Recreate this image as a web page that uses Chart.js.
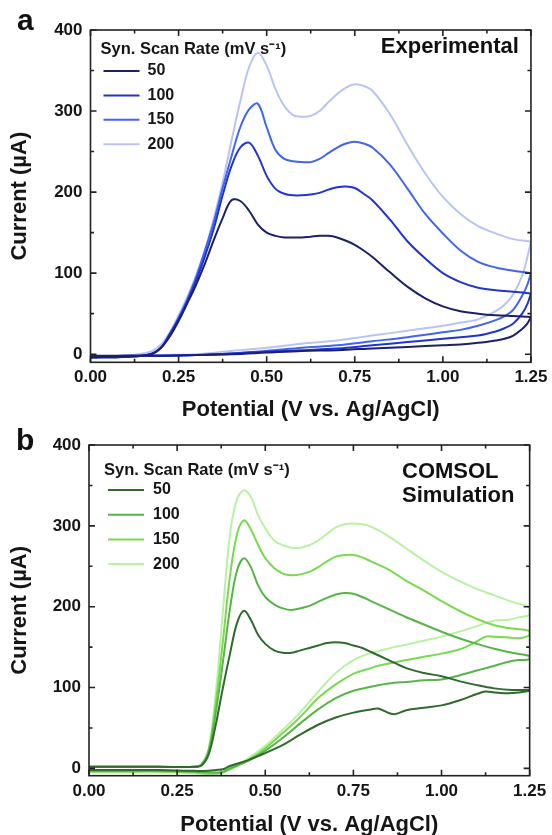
<!DOCTYPE html>
<html>
<head>
<meta charset="utf-8">
<script src="https://cdn.jsdelivr.net/npm/chart.js@4.4.1/dist/chart.umd.min.js"></script>
<style>
  html, body { margin: 0; padding: 0; background: #fff; }
  #wrap { position: relative; width: 552px; height: 835px; overflow: hidden; }
  canvas { position: absolute; left: 0; }
  #chartA { top: 0; }
  #chartB { top: 415px; }
</style>
</head>
<body>
<div id="wrap">
  <canvas id="chartA" width="552" height="430"></canvas>
  <canvas id="chartB" width="552" height="440"></canvas>
</div>
<script>
const scanRates = ['50', '100', '150', '200'];
const legendTitle = 'Syn. Scan Rate (mV s\u207B\u00B9)';
const xTickValues = [0, 0.25, 0.5, 0.75, 1.0, 1.25];
const yTickValues = [0, 100, 200, 300, 400];
const notesA = ['Experimental'];
const notesB = ['COMSOL', 'Simulation'];

// panel a - experimental (potential in V, current in uA)
const potentialFwdA = [0, 0.1, 0.17, 0.2, 0.225, 0.25, 0.275, 0.3, 0.325, 0.35, 0.375, 0.4, 0.425, 0.45, 0.475, 0.5, 0.525, 0.55, 0.575, 0.6, 0.625, 0.65, 0.675, 0.7, 0.725, 0.75, 0.775, 0.8, 0.85, 0.9, 0.95, 1.0, 1.05, 1.1, 1.15, 1.2, 1.25];
const potentialRevA = [1.25, 1.24, 1.225, 1.2, 1.175, 1.15, 1.1, 1.05, 1.0, 0.9, 0.8, 0.7, 0.6, 0.5, 0.4, 0.3, 0.2, 0.1, 0];
const currentA50Fwd = [-4, -3, 0, 8, 22, 41, 63, 86, 112, 141, 168, 190, 189, 177, 160, 150, 146, 144, 144, 144, 145, 146, 146, 144, 140, 135, 128, 120, 101, 83, 69, 59, 53, 50, 48, 47, 46];
const currentA100Fwd = [-4, -3, 0, 8, 25, 43, 65, 91, 121, 155, 196, 232, 255, 261, 245, 220, 204, 198, 196, 196, 197, 199, 203, 206, 207, 205, 198, 190, 166, 139, 118, 100, 89, 82, 79, 77, 75];
const currentA150Fwd = [-4, -3, 0, 8, 25, 45, 68, 95, 128, 163, 205, 244, 280, 302, 309, 280, 252, 241, 238, 237, 237, 241, 248, 255, 260, 262, 260, 255, 234, 204, 173, 149, 128, 114, 107, 103, 100];
const currentA200Fwd = [-3, -2, 3, 12, 27, 48, 71, 98, 129, 168, 212, 263, 312, 354, 372, 356, 327, 306, 295, 293, 294, 300, 311, 321, 329, 333, 331, 325, 296, 258, 223, 194, 173, 158, 149, 142, 139];
const currentA50Rev = [46, 38, 31, 23, 19, 17, 14, 12, 11, 9, 7, 5, 4, 2, 0, -1, -2, -2, -2];
const currentA100Rev = [75, 62, 50, 38, 32, 28, 23, 21, 19, 15, 11, 7, 5, 3, 1, -1, -2, -2, -3];
const currentA150Rev = [100, 86, 72, 55, 47, 42, 35, 30, 27, 21, 16, 11, 8, 4, 1, -1, -2, -2, -3];
const currentA200Rev = [139, 120, 97, 74, 61, 53, 43, 39, 35, 29, 23, 17, 13, 8, 4, 0, -1, -2, -3];

// panel b - COMSOL simulation
const potentialFwdB = [0, 0.1, 0.2, 0.3, 0.32, 0.34, 0.36, 0.38, 0.4, 0.42, 0.44, 0.46, 0.48, 0.5, 0.525, 0.55, 0.575, 0.6, 0.625, 0.65, 0.675, 0.7, 0.725, 0.75, 0.775, 0.8, 0.85, 0.9, 0.95, 1.0, 1.05, 1.1, 1.15, 1.2, 1.25];
const potentialRevB = [1.25, 1.22, 1.19, 1.15, 1.125, 1.1, 1.05, 1.0, 0.95, 0.9, 0.865, 0.82, 0.8, 0.75, 0.7, 0.65, 0.6, 0.55, 0.5, 0.45, 0.4, 0.38, 0.36, 0.34, 0.3, 0.2, 0.1, 0];
const currentB50Fwd = [2, 2, 2, 2, 4, 18, 55, 100, 142, 180, 195, 183, 165, 154, 146, 143, 143, 146, 149, 152, 155, 156, 155, 152, 149, 144, 134, 124, 118, 114, 108, 103, 99, 97, 97];
const currentB100Fwd = [2, 2, 2, 2, 5, 22, 70, 132, 198, 245, 260, 248, 226, 212, 203, 198, 196, 198, 201, 206, 211, 215, 217, 216, 212, 207, 197, 187, 178, 169, 161, 154, 148, 143, 139];
const currentB150Fwd = [2, 2, 2, 2, 5, 24, 82, 158, 238, 290, 307, 295, 276, 260, 248, 241, 239, 240, 243, 249, 256, 262, 264, 264, 261, 256, 246, 232, 220, 207, 195, 185, 177, 173, 170];
const currentB200Fwd = [2, 2, 2, 2, 6, 26, 95, 195, 290, 333, 344, 335, 313, 297, 282, 276, 273, 273, 276, 282, 290, 298, 302, 303, 302, 299, 287, 272, 257, 243, 232, 222, 214, 206, 199];
const currentB50Rev = [96, 94, 93, 94, 95, 92, 84, 78, 75, 72, 67, 74, 73, 69, 63, 54, 42, 29, 19, 10, 3, -1, -2, -3, -3, -2, -2, -2];
const currentB100Rev = [135, 134, 132, 127, 124, 121, 115, 110, 109, 107, 106, 103, 101, 96, 87, 73, 56, 38, 22, 9, 0, -4, -5, -5, -4, -3, -3, -3];
const currentB150Rev = [165, 161, 162, 163, 163, 157, 147, 142, 138, 134, 131, 127, 124, 117, 104, 87, 64, 44, 25, 10, -1, -5, -6, -6, -5, -4, -4, -4];
const currentB200Rev = [190, 187, 184, 183, 180, 176, 169, 163, 158, 153, 150, 145, 143, 134, 118, 95, 70, 48, 28, 12, 0, -5, -7, -7, -6, -4, -4, -4];

const colorsA = ['#1b2168', '#2034d2', '#4065f0', '#b9c3f8'];
const colorsB = ['#2f6a2c', '#57b547', '#79da4e', '#b8f2a3'];

const FONT = '"Liberation Sans", Arial, Helvetica, sans-serif';
Chart.defaults.font.family = FONT;
Chart.defaults.color = '#151515';

function loop(fwdV, fwdI, revV, revI) {
    const pts = fwdV.map((v, i) => ({ x: v, y: fwdI[i] }));
    return pts.concat(revV.map((v, i) => ({ x: v, y: revI[i] })));
}

// frame box with inward major / minor ticks on all four sides
const frameTicks = {
    id: 'frameTicks',
    afterDatasetsDraw(chart) {
        const { ctx, chartArea: a, scales: { x, y } } = chart;
        const major = 6, minor = 3.5;
        ctx.save();
        ctx.strokeStyle = '#222';
        ctx.lineWidth = 1.6;
        ctx.strokeRect(a.left, a.top, a.right - a.left, a.bottom - a.top);
        const mark = (px, isX, len) => {
            ctx.beginPath();
            if (isX) {
                ctx.moveTo(px, a.bottom); ctx.lineTo(px, a.bottom - len);
                ctx.moveTo(px, a.top); ctx.lineTo(px, a.top + len);
            } else {
                ctx.moveTo(a.left, px); ctx.lineTo(a.left + len, px);
                ctx.moveTo(a.right, px); ctx.lineTo(a.right - len, px);
            }
            ctx.stroke();
        };
        xTickValues.forEach((v, i) => {
            mark(x.getPixelForValue(v), true, major);
            if (i > 0) mark(x.getPixelForValue((v + xTickValues[i - 1]) / 2), true, minor);
        });
        yTickValues.forEach((v, i) => {
            mark(y.getPixelForValue(v), false, major);
            if (i > 0) mark(y.getPixelForValue((v + yTickValues[i - 1]) / 2), false, minor);
        });
        ctx.restore();
    }
};

const scanLegend = {
    id: 'scanLegend',
    afterDatasetsDraw(chart, args, opts) {
        const { ctx, chartArea: a } = chart;
        ctx.save();
        ctx.fillStyle = '#151515';
        ctx.textBaseline = 'middle';
        ctx.textAlign = 'left';
        ctx.font = 'bold 16.5px ' + FONT;
        ctx.fillText(legendTitle, a.left + opts.titleDx, a.top + opts.titleDy);
        ctx.font = 'bold 16px ' + FONT;
        chart.data.datasets.forEach((ds, i) => {
            const yy = a.top + opts.rowDy + i * opts.rowGap;
            ctx.strokeStyle = ds.borderColor;
            ctx.lineWidth = 2;
            ctx.beginPath();
            ctx.moveTo(a.left + opts.lineX0, yy);
            ctx.lineTo(a.left + opts.lineX1, yy);
            ctx.stroke();
            ctx.fillText(ds.label, a.left + opts.textDx, yy);
        });
        ctx.restore();
    }
};

const panelText = {
    id: 'panelText',
    afterDraw(chart, args, opts) {
        const { ctx, chartArea: a } = chart;
        ctx.save();
        ctx.fillStyle = '#111';
        ctx.textAlign = 'left';
        ctx.textBaseline = 'alphabetic';
        ctx.font = 'bold 30px ' + FONT;
        ctx.fillText(opts.letter, opts.letterX, opts.letterY);
        ctx.font = 'bold 22px ' + FONT;
        ctx.textBaseline = 'middle';
        ctx.textAlign = opts.noteAlign;
        const x0 = opts.noteAlign === 'right' ? a.right : a.left;
        opts.notes.forEach((t, i) => {
            ctx.fillText(t, x0 + opts.noteDx, a.top + opts.noteDy + i * opts.noteGap);
        });
        ctx.restore();
    }
};

function makeChart(id, colors, series, box, legendOpts, textOpts) {
    const ctx = document.getElementById(id).getContext('2d');
    return new Chart(ctx, {
        type: 'line',
        data: {
            datasets: series.map((data, i) => ({
                label: scanRates[i],
                data: data,
                borderColor: colors[i],
                borderWidth: 2,
                pointRadius: 0,
                tension: 0.35,
                fill: false
            }))
        },
        options: {
            responsive: false,
            animation: false,
            events: [],
            layout: {
                padding: { top: box.top, right: box.right, left: 0, bottom: 0 }
            },
            scales: {
                x: {
                    type: 'linear',
                    min: 0,
                    max: 1.25,
                    afterBuildTicks: s => { s.ticks = xTickValues.map(v => ({ value: v })); },
                    afterFit: s => { s.height = box.xHeight; },
                    grid: { display: false, drawTicks: false },
                    border: { display: false },
                    ticks: {
                        padding: box.xTickPad,
                        maxRotation: 0,
                        font: { size: 17, weight: 'bold' },
                        callback: v => Number(v).toFixed(2)
                    },
                    title: {
                        display: true,
                        text: 'Potential (V vs. Ag/AgCl)',
                        font: { size: 22, weight: 'bold' },
                        padding: { top: 0, bottom: box.xTitlePad }
                    }
                },
                y: {
                    type: 'linear',
                    min: box.yMin,
                    max: 400,
                    afterBuildTicks: s => { s.ticks = yTickValues.map(v => ({ value: v })); },
                    afterFit: s => { s.width = box.yWidth; },
                    grid: { display: false, drawTicks: false },
                    border: { display: false },
                    ticks: {
                        padding: 8,
                        font: { size: 17, weight: 'bold' }
                    },
                    title: {
                        display: true,
                        text: 'Current (\u00B5A)',
                        font: { size: 22, weight: 'bold' },
                        padding: { top: 7, bottom: 0 }
                    }
                }
            },
            plugins: {
                legend: { display: false },
                tooltip: { enabled: false },
                scanLegend: legendOpts,
                panelText: textOpts
            }
        },
        plugins: [frameTicks, scanLegend, panelText]
    });
}

makeChart('chartA', colorsA, [
    loop(potentialFwdA, currentA50Fwd, potentialRevA, currentA50Rev),
    loop(potentialFwdA, currentA100Fwd, potentialRevA, currentA100Rev),
    loop(potentialFwdA, currentA150Fwd, potentialRevA, currentA150Rev),
    loop(potentialFwdA, currentA200Fwd, potentialRevA, currentA200Rev)
], { top: 30, right: 18, yWidth: 90.5, xHeight: 67.7, xTickPad: 4.5, xTitlePad: 7.3, yMin: -10 },
{ titleDx: 10, titleDy: 19, lineX0: 13, lineX1: 49, textDx: 57, rowDy: 41, rowGap: 24.4 },
{ letter: 'a', letterX: 17, letterY: 30, notes: notesA, noteAlign: 'right', noteDx: -12, noteDy: 16.5, noteGap: 24.5 });

makeChart('chartB', colorsB, [
    loop(potentialFwdB, currentB50Fwd, potentialRevB, currentB50Rev),
    loop(potentialFwdB, currentB100Fwd, potentialRevB, currentB100Rev),
    loop(potentialFwdB, currentB150Fwd, potentialRevB, currentB150Rev),
    loop(potentialFwdB, currentB200Fwd, potentialRevB, currentB200Rev)
], { top: 30, right: 18.7, yWidth: 89, xHeight: 79.3, xTickPad: 5.8, xTitlePad: 17.1, yMin: -9 },
{ titleDx: 15, titleDy: 25, lineX0: 19, lineX1: 55, textDx: 64, rowDy: 45, rowGap: 24.7 },
{ letter: 'b', letterX: 16, letterY: 35, notes: notesB, noteAlign: 'left', noteDx: 313, noteDy: 26.7, noteGap: 24.4 });
</script>
</body>
</html>
